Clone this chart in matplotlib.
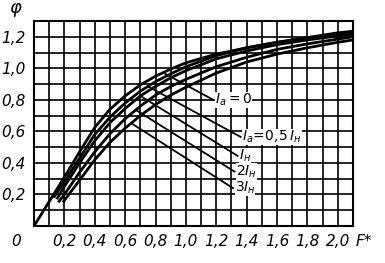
import numpy as np
import matplotlib
matplotlib.use("Agg")
import matplotlib.pyplot as plt

plt.rcParams['font.family'] = ['DejaVu Sans']
plt.rcParams['mathtext.fontset'] = 'dejavusans'

# ---------------------------------------------
# data
# ---------------------------------------------
F_0 = [0, 0.1, 0.2, 0.3, 0.4, 0.5, 0.6, 0.7, 0.8, 0.9, 1.0, 1.2, 1.4, 1.6, 1.8, 2.0, 2.1]
phi_0 = [0, 0.155, 0.31, 0.47, 0.625, 0.74, 0.825, 0.895, 0.95, 0.995, 1.035, 1.09, 1.13, 1.165, 1.19, 1.215, 1.225]

F_05 = [0.13, 0.2, 0.3, 0.4, 0.5, 0.6, 0.7, 0.8, 0.9, 1.0, 1.2, 1.4, 1.6, 1.8, 2.0, 2.1]
phi_05 = [0.18, 0.28, 0.43, 0.58, 0.69, 0.78, 0.855, 0.915, 0.965, 1.01, 1.08, 1.13, 1.165, 1.195, 1.225, 1.235]

F_1 = [0.15, 0.2, 0.3, 0.4, 0.5, 0.6, 0.7, 0.8, 0.9, 1.0, 1.2, 1.4, 1.6, 1.8, 2.0, 2.1]
phi_1 = [0.17, 0.25, 0.40, 0.54, 0.655, 0.745, 0.825, 0.885, 0.94, 0.985, 1.06, 1.11, 1.15, 1.18, 1.205, 1.215]

F_2 = [0.16, 0.2, 0.3, 0.4, 0.5, 0.6, 0.7, 0.8, 0.9, 1.0, 1.2, 1.4, 1.6, 1.8, 2.0, 2.1]
phi_2 = [0.15, 0.2, 0.34, 0.47, 0.585, 0.68, 0.76, 0.83, 0.885, 0.93, 1.01, 1.07, 1.12, 1.155, 1.185, 1.20]

F_3 = [0.19, 0.3, 0.4, 0.5, 0.6, 0.7, 0.8, 0.9, 1.0, 1.2, 1.4, 1.6, 1.8, 2.0, 2.1]
phi_3 = [0.15, 0.29, 0.42, 0.53, 0.62, 0.70, 0.77, 0.83, 0.88, 0.97, 1.04, 1.09, 1.13, 1.165, 1.18]

labels = [r"$I_a = 0$", r"$I_a\!=\!0{,}5\,I_н$", r"$I_н$", r"$2I_н$", r"$3I_н$"]
# where each leader touches its curve (F) and where the label sits
leader_F = [0.85, 0.75, 0.70, 0.67, 0.64]
label_xy = [(1.18, 0.80), (1.36, 0.565), (1.34, 0.445), (1.32, 0.345), (1.31, 0.24)]

xticks = [0.2, 0.4, 0.6, 0.8, 1.0, 1.2, 1.4, 1.6, 1.8, 2.0]
yticks = [0.2, 0.4, 0.6, 0.8, 1.0, 1.2]

curves = [(F_0, phi_0), (F_05, phi_05), (F_1, phi_1), (F_2, phi_2), (F_3, phi_3)]

fig = plt.figure(figsize=(3.85, 2.63), dpi=100)
ax = fig.add_axes([34 / 385, 1 - 226 / 263, 319 / 385, 205 / 263])

# grid every 0.1
for gx in np.arange(0.1, 2.1, 0.1):
    ax.axvline(gx, color='black', lw=1.2, zorder=1)
for gy in np.arange(0.1, 1.3, 0.1):
    ax.axhline(gy, color='black', lw=1.2, zorder=1)

for (fx, fy) in curves:
    ax.plot(fx, fy, color='black', lw=2.0, zorder=3, solid_capstyle='butt')

for i, (fx, fy) in enumerate(curves):
    x0 = leader_F[i]
    y0 = np.interp(x0, fx, fy)
    x1, y1 = label_xy[i]
    ax.plot([x0, x1], [y0, y1], color='black', lw=1.3, zorder=2)
    ax.text(x1 + 0.01, y1, labels[i], fontsize=10, style='italic',
            va='center', ha='left', zorder=4,
            bbox=dict(facecolor='white', edgecolor='none', pad=0.0))

ax.set_xlim(0, 2.1)
ax.set_ylim(0, 1.3)
for s in ax.spines.values():
    s.set_linewidth(1.5)
ax.tick_params(length=0, pad=6)
ax.set_xticks(xticks)
ax.set_xticklabels([f"{v:.1f}".replace('.', ',') for v in xticks], fontsize=11, style='italic')
ax.set_yticks(yticks)
ax.set_yticklabels([f"{v:.1f}".replace('.', ',') for v in yticks], fontsize=11, style='italic')

ax.text(-0.12, -0.1, "0", fontsize=11, style='italic', ha='center', va='center', clip_on=False)
ax.text(2.17, -0.1, "F*", fontsize=11, style='italic', ha='center', va='center', clip_on=False)
ax.text(-0.12, 1.37, r"$\varphi$", fontsize=13, ha='center', va='center', clip_on=False)

fig.savefig("out.png", dpi=100)
